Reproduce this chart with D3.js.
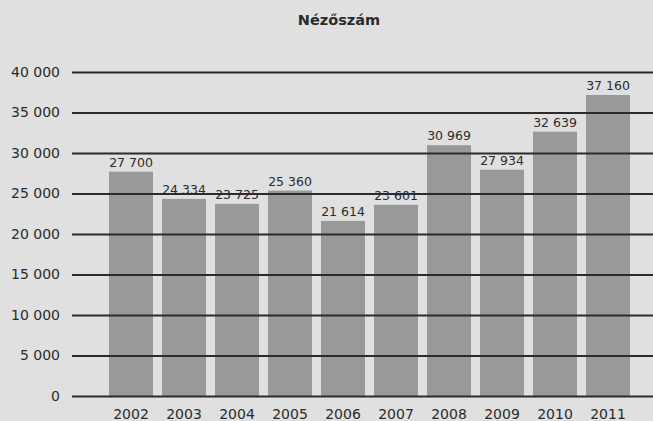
<!DOCTYPE html>
<html>
<head>
<meta charset="utf-8">
<script src="https://cdn.jsdelivr.net/npm/d3@7"></script>
<style>
  body { margin: 0; background: #e0e0e0; }
  svg { display: block; font-family: "DejaVu Sans", sans-serif; }
</style>
</head>
<body>
<svg id="chart" width="653" height="421"></svg>
<script>
const years = ["2002", "2003", "2004", "2005", "2006", "2007", "2008", "2009", "2010", "2011"];
const viewers = [27700, 24334, 23725, 25360, 21614, 23601, 30969, 27934, 32639, 37160];
const yTicks = [0, 5000, 10000, 15000, 20000, 25000, 30000, 35000, 40000];

const svg = d3.select("#chart");
const fmt = v => d3.format(",")(v).replace(/,/g, " ");
const ink = "#2b2b2b";

const x = d3.scaleBand().domain(years).range([104.5, 634.5]).paddingInner(0.17).paddingOuter(0.085);
const y = d3.scaleLinear().domain([0, 40000]).range([396, 72]);

svg.append("rect").attr("width", 653).attr("height", 421).attr("fill", "#e0e0e0");

// title
svg.append("text")
    .attr("x", 339).attr("y", 25)
    .attr("text-anchor", "middle")
    .attr("font-size", 14.5).attr("font-weight", "bold")
    .attr("fill", ink)
    .text("Nézőszám");

// bars
svg.selectAll("rect.bar")
    .data(viewers)
    .enter().append("rect")
    .attr("class", "bar")
    .attr("x", (d, i) => x(years[i]))
    .attr("width", x.bandwidth())
    .attr("y", d => y(d))
    .attr("height", d => y(0) - y(d))
    .attr("fill", "#999999");

// gridlines drawn over the bars
const yAxis = d3.axisLeft(y).tickValues(yTicks).tickFormat(fmt).tickSize(-(653 - 72)).tickPadding(12);
const gy = svg.append("g").attr("transform", "translate(72,0)").call(yAxis);
gy.select(".domain").remove();
gy.selectAll(".tick line").attr("stroke", ink).attr("stroke-width", 2);
gy.selectAll(".tick text").attr("font-size", 14).attr("fill", ink)
    .attr("font-family", "\"DejaVu Sans\", sans-serif");

// value labels
svg.selectAll("text.val")
    .data(viewers)
    .enter().append("text")
    .attr("class", "val")
    .attr("x", (d, i) => x(years[i]) + x.bandwidth() / 2)
    .attr("y", d => y(d) - 5)
    .attr("text-anchor", "middle")
    .attr("font-size", 12.5).attr("fill", ink)
    .text(fmt);

// year labels
const xAxis = d3.axisBottom(x).tickSize(0).tickPadding(13);
const gx = svg.append("g").attr("transform", `translate(0,${y(0)})`).call(xAxis);
gx.select(".domain").remove();
gx.selectAll(".tick text").attr("font-size", 14).attr("fill", ink)
    .attr("font-family", "\"DejaVu Sans\", sans-serif");
</script>
</body>
</html>
